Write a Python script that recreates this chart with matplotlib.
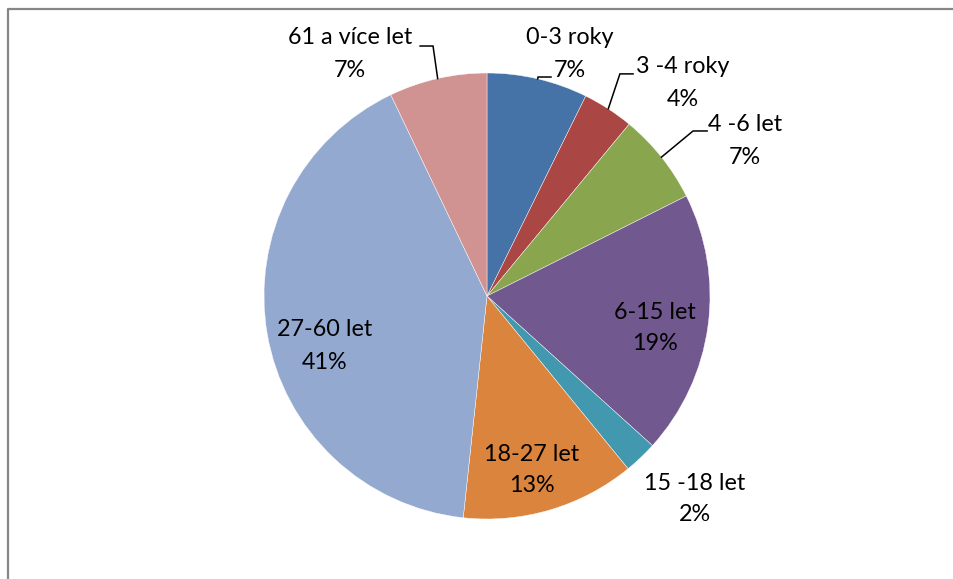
import numpy as np
import matplotlib
matplotlib.use("Agg")
import matplotlib.pyplot as plt
from matplotlib.lines import Line2D

# ---- data ----
categories = ["0-3 roky", "3 -4 roky", "4 -6 let", "6-15 let", "15 -18 let",
              "18-27 let", "27-60 let", "61 a více let"]
values = [7.3, 3.7, 6.6, 19.1, 2.4, 12.6, 41.2, 7.1]
colors = ["#4572A7", "#AA4643", "#89A54E", "#71588F", "#4198AF",
          "#DB843D", "#93A9CF", "#D19392"]

# label anchors (data units, pie radius = 1): x, y of name line, y of pct line
label_pos = [
    (0.372, 1.161, 1.013),
    (0.879, 1.027, 0.879),
    (1.157, 0.767, 0.619),
    (0.753, -0.072, -0.211),
    (0.933, -0.839, -0.982),
    (0.202, -0.709, -0.848),
    (-0.727, -0.152, -0.296),
    (-0.614, 1.161, 1.013),
]
# leader lines: index -> (elbow, end)
leaders = {
    0: ((0.229, 0.982), (0.287, 0.982)),
    1: ((0.596, 0.996), (0.655, 0.996)),
    2: ((0.924, 0.740), (0.987, 0.740)),
    7: ((-0.242, 1.121), (-0.300, 1.121)),
}

W, H = 954, 579
CX, CY, R = 487, 296, 223
plt.rcParams['font.family'] = ['Lato', 'DejaVu Sans']

fig = plt.figure(figsize=(W / 100, H / 100), dpi=100)
ax = fig.add_axes([0, 0, 1, 1])
wedges, _ = ax.pie(values, colors=colors, startangle=90, counterclock=False,
                   radius=1, wedgeprops=dict(edgecolor='white', linewidth=0.3))
ax.set_aspect('auto')
ax.set_xlim(-CX / R, (W - CX) / R)
ax.set_ylim(-(H - CY) / R, CY / R)
ax.axis('off')

total = sum(values)
fs = 16.8
for i, (cat, v) in enumerate(zip(categories, values)):
    x, yn, yp = label_pos[i]
    pct = f"{round(v / total * 100):d}%"
    ax.text(x, yn, cat, ha='center', va='center', fontsize=fs, color='black')
    ax.text(x, yp, pct, ha='center', va='center', fontsize=fs, color='black')
    if i in leaders:
        w = wedges[i]
        mid = np.deg2rad((w.theta1 + w.theta2) / 2)
        sx, sy = np.cos(mid), np.sin(mid)
        (ex, ey), (tx, ty) = leaders[i]
        ax.plot([sx, ex, tx], [sy, ey, ty], color='black', lw=1.1,
                solid_joinstyle='miter')

# chart border (top and left visible)
bx, by = 8.5 / W, 1 - 8.5 / H
fig.add_artist(Line2D([bx, bx, 1.01], [-0.01, by, by], transform=fig.transFigure,
                      color='#868686', lw=1.6))

fig.savefig("out.png", dpi=100)
